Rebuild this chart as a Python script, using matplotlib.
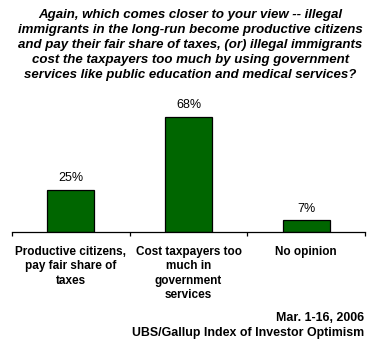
import matplotlib
matplotlib.use("Agg")
import matplotlib.pyplot as plt

categories = ["Productive citizens,\npay fair share of\ntaxes",
              "Cost taxpayers too\nmuch in\ngovernment\nservices",
              "No opinion"]
values = [25, 68, 7]
value_labels = ["25%", "68%", "7%"]
title = ("Again, which comes closer to your view -- illegal\n"
         "immigrants in the long-run become productive citizens\n"
         "and pay their fair share of taxes, (or) illegal immigrants\n"
         "cost the taxpayers too much by using government\n"
         "services like public education and medical services?")
footer = "Mar. 1-16, 2006\nUBS/Gallup Index of Investor Optimism"

W, H = 381, 348
fig = plt.figure(figsize=(W/100, H/100), dpi=100)
plt.rcParams['font.family'] = ['Liberation Sans', 'DejaVu Sans']

# axes: x 12..365, y bottom at 232, top at 100
ax = fig.add_axes([12/W, 1-232/H, (365-12)/W, (232-100)/H])
x = list(range(len(categories)))
ax.bar(x, values, width=0.4, color='#006600', edgecolor='black', linewidth=0.9)
ax.set_xlim(-0.5, 2.5)
ymax = 68 * (232-100) / (232-117)
ax.set_ylim(0, ymax)
for s in ['top', 'right', 'left']:
    ax.spines[s].set_visible(False)
ax.spines['bottom'].set_linewidth(0.9)
ax.set_yticks([])
ax.set_xticks([-0.5, 0.5, 1.5, 2.5])
ax.set_xticklabels([])
ax.tick_params(axis='x', length=3, width=0.9, direction='out')
for xi, v, lab in zip(x, values, value_labels):
    ax.annotate(lab, (xi, v), xytext=(0, 4), textcoords='offset points',
                ha='center', va='bottom', fontsize=9)
for xi, c in zip(x, categories):
    ax.annotate(c, (xi, 0), xycoords=('data', 'axes fraction'), xytext=(0, -10),
                textcoords='offset points', ha='center', va='top', fontsize=8.5,
                fontweight='bold', linespacing=1.27)

fig.text(0.5, 1-9/H, title, ha='center', va='top', fontsize=9.55,
         fontweight='bold', fontstyle='italic', linespacing=1.32)
fig.text(364/W, 1-312/H, footer, ha='right', va='top', fontsize=8.9,
         fontweight='bold', linespacing=1.3)

fig.savefig("out.png", dpi=100)
